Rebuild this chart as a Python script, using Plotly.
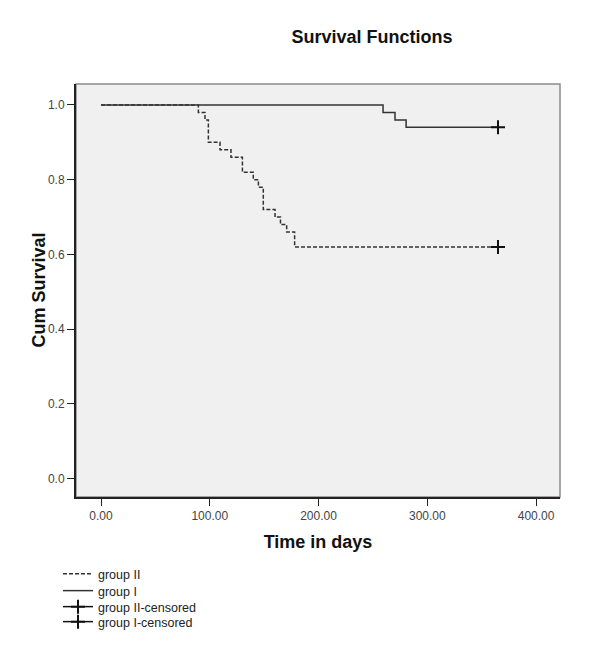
import plotly.graph_objects as go

# Data
group2_times = [0, 89.5, 95.6, 98.7, 109.4, 119.5, 130, 140, 144.7, 149.2, 160, 165, 170.7, 178, 365]
group2_surv = [1.0, 0.98, 0.96, 0.90, 0.88, 0.86, 0.82, 0.80, 0.78, 0.72, 0.70, 0.68, 0.66, 0.62, 0.62]
group1_times = [0, 259.3, 270.3, 280.5, 365]
group1_surv = [1.0, 0.98, 0.96, 0.94, 0.94]
group2_censor_t = [365]
group2_censor_s = [0.62]
group1_censor_t = [365]
group1_censor_s = [0.94]

x_ticks = [0, 100, 200, 300, 400]
y_ticks = [0.0, 0.2, 0.4, 0.6, 0.8, 1.0]

FONT = "Liberation Sans, Arial, sans-serif"
W, H = 600, 665
L, R, T, B = 76, 40, 84, 168

fig = go.Figure()
fig.add_trace(go.Scatter(x=group2_times, y=group2_surv, mode="lines", line_shape="hv",
                         line=dict(color="#333333", width=1.5, dash="4px,2px"), name="group II",
                         legend="legend"))
fig.add_trace(go.Scatter(x=group1_times, y=group1_surv, mode="lines", line_shape="hv",
                         line=dict(color="#333333", width=1.5), name="group I", legend="legend2"))
fig.add_trace(go.Scatter(x=group2_censor_t, y=group2_censor_s, mode="lines+markers",
                         line=dict(color="#111111", width=1.5),
                         marker=dict(symbol="cross-thin", size=10, line=dict(color="#111111", width=2)),
                         name="group II-censored", legend="legend3"))
fig.add_trace(go.Scatter(x=group1_censor_t, y=group1_censor_s, mode="lines+markers",
                         line=dict(color="#111111", width=1.5),
                         marker=dict(symbol="cross-thin", size=10, line=dict(color="#111111", width=2)),
                         name="group I-censored", legend="legend4"))

fig.add_shape(type="rect", xref="paper", yref="paper", x0=0, x1=1, y0=0, y1=1,
              line=dict(color="#8a8a8a", width=1.5), layer="below")

fig.add_annotation(text="<b>Cum Survival</b>", textangle=-90, showarrow=False,
                   xref="paper", yref="paper", x=(38 - L) / (W - L - R), y=0.5,
                   xanchor="center", yanchor="middle",
                   font=dict(family=FONT, size=18, color="#111111"))


def leg(ypix):
    return dict(x=58/W, xref="container", y=1-ypix/H, yref="container", xanchor="left",
                yanchor="middle", font=dict(size=12.5, color="#222222"), bgcolor="rgba(0,0,0,0)",
                itemwidth=30)


fig.update_layout(
    width=W, height=H,
    margin=dict(l=L, r=R, t=T, b=B, autoexpand=False),
    paper_bgcolor="white", plot_bgcolor="#f0f0f0",
    font=dict(family=FONT, color="#333333", size=12),
    title=dict(text="<b>Survival Functions</b>", font=dict(family=FONT, size=18, color="#111111"),
               xref="container", yref="container", x=372/W, xanchor="center",
               y=1-37/H, yanchor="middle"),
    xaxis=dict(range=[-23, 422], tickvals=x_ticks, tickformat=".2f", showgrid=False, zeroline=False,
               showline=True, linecolor="#222222", linewidth=2, ticks="outside", ticklen=7,
               tickcolor="#222222", tickwidth=1, tickfont=dict(size=12, color="#444444"),
               title=dict(text="<b>Time in days</b>", font=dict(size=18, color="#111111"), standoff=13)),
    yaxis=dict(range=[-0.049, 1.056], tickvals=y_ticks, tickformat=".1f", showgrid=False, zeroline=False,
               showline=True, linecolor="#222222", linewidth=2, ticks="outside", ticklen=7,
               tickcolor="#222222", tickwidth=1, tickfont=dict(size=12, color="#444444")),
    showlegend=True,
    legend=leg(574),
    legend2=leg(591),
    legend3=leg(607),
    legend4=leg(622),
)

fig.write_html("out.html", config={"displayModeBar": False},
               post_script="document.body.style.margin='0px';")
